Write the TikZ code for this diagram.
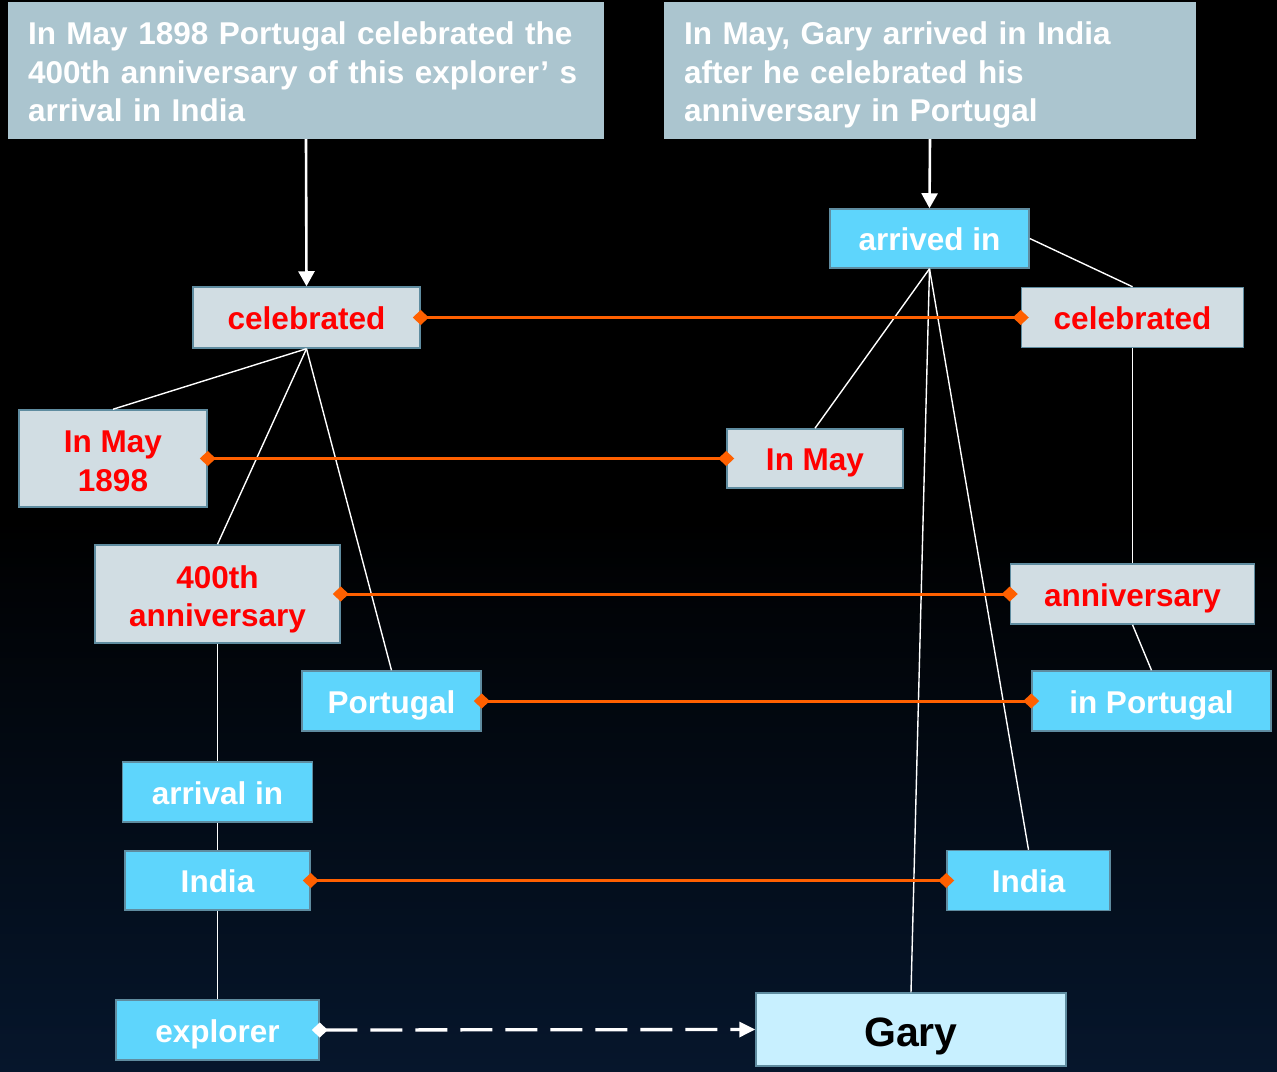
\documentclass[tikz,border=0pt]{standalone}
\usepackage{fontspec}
\setmainfont{Liberation Sans}
\usetikzlibrary{arrows.meta}

\definecolor{bgnavy}{RGB}{6,22,44}
\definecolor{hdrfill}{RGB}{171,197,207}
\definecolor{greyfill}{RGB}{209,221,227}
\definecolor{cyanfill}{RGB}{94,213,252}
\definecolor{garyfill}{RGB}{200,240,255}
\definecolor{boxedge}{RGB}{95,140,160}
\definecolor{linkorange}{RGB}{255,96,0}
\definecolor{wordred}{RGB}{255,0,0}

\tikzset{
  wordfont/.style={font=\fontsize{31.5}{38.5}\selectfont\bfseries},
  oneline/.style={text height=24.5pt, text depth=0pt},
  twolines/.style={text height=65.5pt, text depth=0pt},
  hdrbox/.style={font=\fontsize{31.5}{38.7}\selectfont\bfseries, fill=hdrfill,
    draw=none, text=white, align=left, inner xsep=20pt, inner ysep=0pt,
    minimum height=137pt, text height=25pt, text depth=77pt},
  greybox/.style={wordfont, fill=greyfill, draw=boxedge, line width=1.5pt,
    text=wordred, align=center, inner sep=0pt},
  cyanbox/.style={wordfont, fill=cyanfill, draw=boxedge, line width=1.5pt,
    text=white, align=center, inner sep=0pt},
  garybox/.style={font=\fontsize{41}{48}\selectfont\bfseries, fill=garyfill,
    draw=boxedge, line width=1.5pt, text=black, inner sep=0pt,
    text height=33pt, text depth=0pt},
  size/.style 2 args={minimum width=#1pt, minimum height=#2pt},
  tree/.style={draw=white, line width=1.4pt},
  pointer/.style={draw=white, line width=2.6pt,
    -{Triangle[length=15pt,width=16pt]}},
  link/.style={draw=linkorange, line width=3pt,
    {Diamond[length=16pt,width=15pt]}-{Diamond[length=16pt,width=15pt]},
    shorten <=-8pt, shorten >=-8pt},
  mapsto/.style={draw=white, line width=3.3pt, dash pattern=on 32pt off 13pt,
    {Diamond[length=16pt,width=15pt]}-{Triangle[length=16pt,width=15pt]},
    shorten <=-8pt},
}

\begin{document}
\begin{tikzpicture}[x=1pt,y=-1pt]
  \useasboundingbox (0,0) rectangle (1277,1071);
  % night-sky background
  \fill[black] (0,0) rectangle (1277,1071);
  \shade[top color=black, bottom color=bgnavy] (0,520) rectangle (1277,1071);

  % the two sentences
  \node[hdrbox, text width=556pt] (hdrL) at (306,70.5)
    {In May 1898 Portugal celebrated the\\400th anniversary of this explorer\textquoteright\ s\\arrival in India};
  \node[hdrbox, text width=492pt] (hdrR) at (930,70.5)
    {In May, Gary arrived in India\\after he celebrated his\\anniversary in Portugal};

  % left parse tree
  \node[greybox, oneline, size={227}{61}] (celL) at (306.5,317.5) {celebrated};
  \node[greybox, twolines, size={188}{97}] (may1) at (113,458.5) {In May\\1898};
  \node[greybox, twolines, size={245}{98}] (ann1) at (217.5,594) {400th\\anniversary};
  \node[cyanbox, oneline, size={179}{60}] (porL) at (391.5,701) {Portugal};
  \node[cyanbox, oneline, size={190}{60}] (arrival) at (217.5,792) {arrival in};
  \node[cyanbox, oneline, size={185}{59}] (indL) at (217.5,880.5) {India};
  \node[cyanbox, oneline, size={203}{60}] (expl) at (217.5,1030) {explorer};

  % right parse tree
  \node[cyanbox, oneline, size={199}{59}] (arrIn) at (929.5,238.5) {arrived in};
  \node[greybox, oneline, size={222}{60}] (celR) at (1132.5,317.5) {celebrated};
  \node[greybox, oneline, size={176}{59}] (mayR) at (815,458.5) {In May};
  \node[greybox, oneline, size={244}{60}] (annR) at (1132.5,594) {anniversary};
  \node[cyanbox, oneline, size={239}{60}] (porR) at (1151.5,701) {in Portugal};
  \node[cyanbox, oneline, size={163}{60}] (indR) at (1028.5,880.5) {India};
  \node[garybox, size={310}{73}] (gary) at (911,1029.5) {Gary};

  % sentence to root
  \draw[pointer] (hdrL.south) -- (celL.north);
  \draw[pointer] (hdrR.south) -- (arrIn.north);

  % left tree branches
  \draw[tree] (celL.south) -- (may1.north);
  \draw[tree] (celL.south) -- (ann1.north);
  \draw[tree] (celL.south) -- (porL.north);
  \draw[tree] (ann1.south) -- (arrival.north);
  \draw[tree] (arrival.south) -- (indL.north);
  \draw[tree] (indL.south) -- (expl.north);

  % right tree branches
  \draw[tree] (arrIn.south) -- (mayR.north);
  \draw[tree] (arrIn.south) -- (gary.north);
  \draw[tree] (arrIn.south) -- (indR.north);
  \draw[tree] (arrIn.east) -- (celR.north);
  \draw[tree] (celR.south) -- (annR.north);
  \draw[tree] (annR.south) -- (porR.north);

  % correspondences
  \draw[link] (celL.east) -- (celR.west);
  \draw[link] (may1.east) -- (mayR.west);
  \draw[link] (ann1.east) -- (annR.west);
  \draw[link] (porL.east) -- (porR.west);
  \draw[link] (indL.east) -- (indR.west);
  \draw[mapsto] (expl.east) -- (gary.west);
\end{tikzpicture}
\end{document}
